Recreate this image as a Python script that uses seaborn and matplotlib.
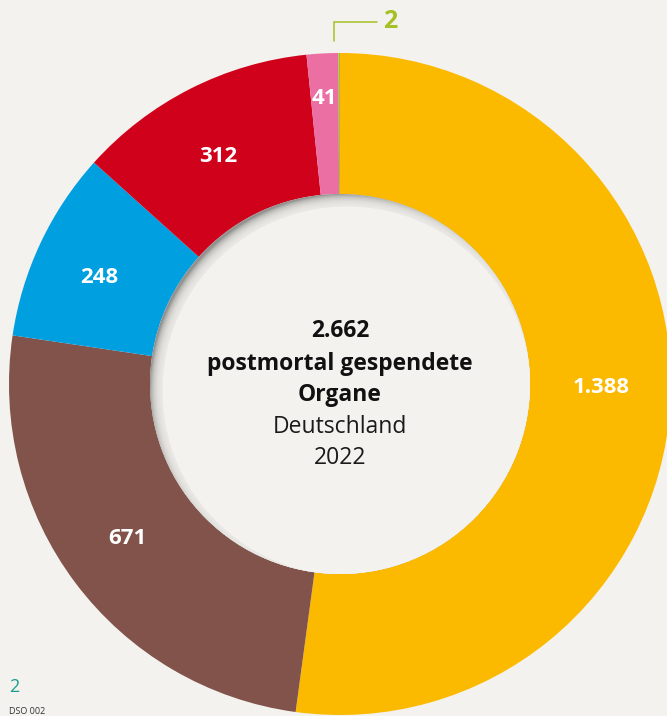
import numpy as np
import matplotlib
matplotlib.use('Agg')
import matplotlib.pyplot as plt
from matplotlib.patches import Circle
import seaborn as sns

# data, clockwise from 12 o'clock
values = [1388, 671, 248, 312, 41, 2]
labels = ['1.388', '671', '248', '312', '41', '2']
colors = ['#FBBA00', '#82534A', '#009FE0', '#D0021B', '#EC6FA4', '#A5C125']

total_text = '2.662'
title_lines = ['postmortal gespendete', 'Organe']
sub_lines = ['Deutschland', '2022']

bg = '#F3F2EE'
W, H = 667, 716
cx, cy = 340, H - 384
r_out, r_in = 331, 190

sns.set_theme(style='white')
plt.rcParams['font.family'] = ['Open Sans', 'DejaVu Sans']

fig = plt.figure(figsize=(W / 100, H / 100), dpi=100, facecolor=bg)
ax = fig.add_axes([0, 0, 1, 1])
ax.set_facecolor(bg)

wedges, _ = ax.pie(values, colors=colors, radius=r_out, center=(cx, cy),
                   startangle=90, counterclock=False,
                   wedgeprops=dict(width=r_out - r_in, edgecolor='none', linewidth=0))

# soft inner shadow on the upper left of the hole
hole = Circle((cx, cy), r_in, facecolor='#929290', edgecolor='none', zorder=3)
ax.add_patch(hole)
off = 7
r_solid = r_in - off + 1.5
for rr in np.linspace(r_in + off, r_solid, 18):
    c = Circle((cx + off, cy - off), rr, facecolor=bg, edgecolor='none',
               alpha=0.15, zorder=4)
    ax.add_patch(c)
    c.set_clip_path(hole)
c = Circle((cx + off, cy - off), r_solid, facecolor=bg, edgecolor='none', zorder=4)
ax.add_patch(c)
c.set_clip_path(hole)

# value labels inside the ring
label_r = [262, 262, 262, 262, 288]
nudge = [(0, 14), (-3, 3), (-4, -5), (-3, -6), (0, -2)]
for w, lab, lr, (dx, dy) in zip(wedges[:5], labels[:5], label_r, nudge):
    ang = np.deg2rad((w.theta1 + w.theta2) / 2)
    ax.text(cx + lr * np.cos(ang) + dx, cy + lr * np.sin(ang) + dy, lab,
            color='white', fontsize=16, fontweight='bold',
            ha='center', va='center', zorder=5)

# leader for the tiny slice
w = wedges[5]
ang = np.deg2rad((w.theta1 + w.theta2) / 2)
x0 = cx + r_out * np.cos(ang) - 5
y0 = cy + r_out * np.sin(ang) + 12
ax.plot([x0, x0, x0 + 43], [y0, H - 22, H - 22], color=colors[5], lw=1.1,
        solid_joinstyle='miter', zorder=5)
ax.text(x0 + 49, H - 22, labels[5], color=colors[5], fontsize=18,
        fontweight='bold', ha='left', va='center', zorder=5)

# centre text
ax.text(cx, H - 331, total_text, fontsize=16.5, fontweight='bold',
        ha='center', va='center', color='#111111', zorder=6)
for k, t in enumerate(title_lines):
    ax.text(cx, H - 364 - 31 * k, t, fontsize=16.5, fontweight='bold',
            ha='center', va='center', color='#111111', zorder=6)
for k, t in enumerate(sub_lines):
    ax.text(cx, H - 427 - 31 * k, t, fontsize=16.5, fontweight='normal',
            ha='center', va='center', color='#1a1a1a', zorder=6)

# footer
ax.text(9, H - 687, '2', fontsize=13, color='#1A9E8F', ha='left',
        va='center')
ax.text(9, H - 712, 'DSO 002', fontsize=6.5, color='#333333', ha='left',
        va='center')

ax.set_xlim(0, W)
ax.set_ylim(0, H)
ax.set_aspect('equal')
ax.axis('off')

fig.savefig('out.png', dpi=100, facecolor=bg)
